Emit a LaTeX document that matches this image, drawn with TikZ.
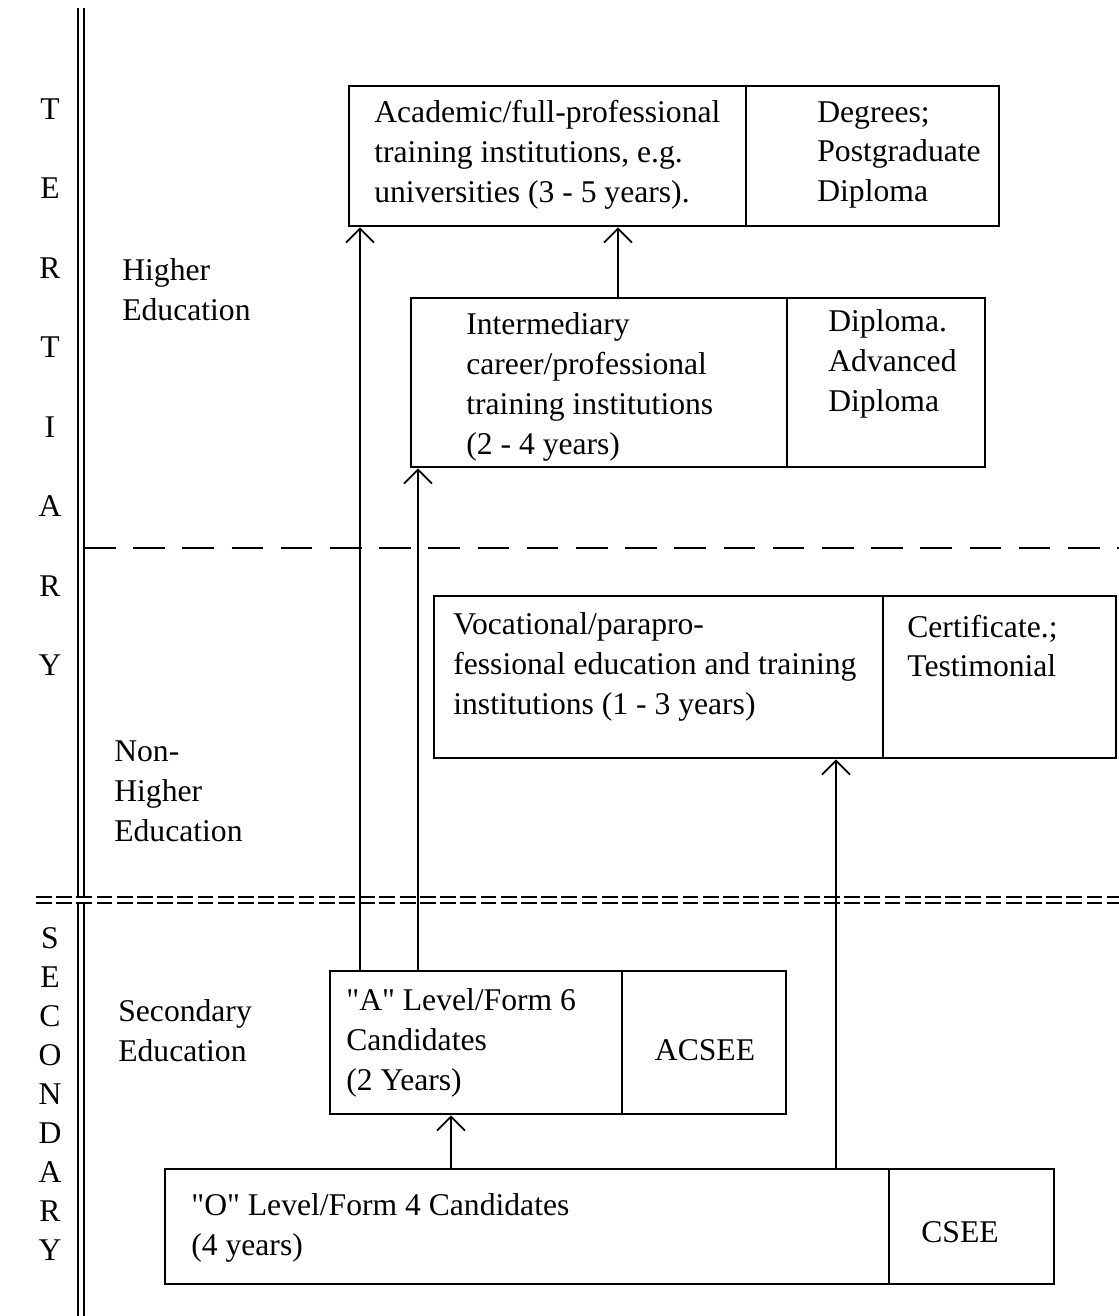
\documentclass[tikz,border=0pt]{standalone}
\usepackage{fontspec}
\setmainfont{Liberation Serif}
\usetikzlibrary{arrows.meta}

\begin{document}
\begin{tikzpicture}
    [x=0.02cm, y=-0.02cm,
    cell/.style 2 args={draw, line width=1.3pt, anchor=north west, inner sep=0pt,
        minimum width=#1*0.02cm, minimum height=#2*0.02cm},
    txt/.style={anchor=west, align=left, inner sep=0pt, font=\fontsize{18}{22.7}\selectfont},
    award/.style={anchor=center, align=center, inner sep=0pt, font=\fontsize{18}{22.7}\selectfont},
    letter/.style={anchor=center, inner sep=0pt, font=\fontsize{18}{22.7}\selectfont},
    arr/.style={-{Straight Barb[length=8pt,width=16pt,line width=1pt]}, line width=1pt}]

    \useasboundingbox (0,0) rectangle (1119,1316);

    % level rules
    \coordinate (ruleTop) at (81,8);
    \coordinate (ruleBot) at (81,1316);
    \draw[double, double distance=2.8pt, line width=0.8pt] (ruleTop) -- (ruleBot);

    \coordinate (hiL) at (84,548);
    \coordinate (hiR) at (1119,548);
    \draw[line width=1.2pt, dash pattern=on 18pt off 10pt] (hiL) -- (hiR);

    \coordinate (secL) at (36,900);
    \coordinate (secR) at (1119,900);
    \draw[double, double distance=2.6pt, line width=0.7pt, dash pattern=on 9pt off 2.5pt] (secL) -- (secR);

    % side letters
    \foreach \ch [count=\i from 0] in {T,E,R,T,I,A,R,Y}
        \node[letter] (ter\i) at (50,{109+79.5*\i}) {\ch};
    \foreach \ch [count=\i from 0] in {S,E,C,O,N,D,A,R,Y}
        \node[letter] (sec\i) at (50,{938+39*\i}) {\ch};

    \node[txt] (higherLbl) at (122,290) {Higher\\Education};
    \node[txt] (nonHigherLbl) at (114,791) {Non-\\Higher\\Education};
    \node[txt] (secondaryLbl) at (118,1031) {Secondary\\Education};

    % boxes
    \node[cell={397}{140}] (acadL) at (348,85) {};
    \node[cell={253}{140}] (acadR) at (745,85) {};
    \node[cell={376}{169}] (interL) at (410,297) {};
    \node[cell={198}{169}] (interR) at (786,297) {};
    \node[cell={449}{162}] (vocL) at (433,595) {};
    \node[cell={233}{162}] (vocR) at (882,595) {};
    \node[cell={292}{143}] (aLevL) at (329,970) {};
    \node[cell={164}{143}] (aLevR) at (621,970) {};
    \node[cell={724}{115}] (oLevL) at (164,1168) {};
    \node[cell={165}{115}] (oLevR) at (888,1168) {};

    \node[txt] (acadText) at (374,155) {Academic/full-professional\\training institutions, e.g.\\universities (3 - 5 years).};
    \node[txt] (acadAward) at (817,155) {Degrees;\\Postgraduate\\Diploma};
    \node[txt] (interText) at (466,387) {Intermediary\\career/professional\\training institutions\\(2 - 4 years)};
    \node[txt] (interAward) at (828,364) {Diploma.\\Advanced\\Diploma};
    \node[txt] (vocText) at (453,667) {Vocational/parapro-\\fessional education and training\\institutions (1 - 3 years)};
    \node[txt] (vocAward) at (907,646) {Certificate.;\\Testimonial};
    \node[txt] (aLevText) at (346,1043) {\textquotedbl A\textquotedbl{} Level/Form 6\\Candidates\\(2 Years)};
    \node[award] (aLevAward) at (705,1050) {ACSEE};
    \node[txt] (oLevText) at (191,1228) {\textquotedbl O\textquotedbl{} Level/Form 4 Candidates\\(4 years)};
    \node[award] (oLevAward) at (960,1232) {CSEE};

    % progression
    \draw[arr] (aLevL.north west) ++(31,0) coordinate (upAcad) -- (upAcad |- acadL.south);
    \draw[arr] (aLevL.north west) ++(89,0) coordinate (upInter) -- (upInter |- interL.south);
    \draw[arr] (interL.north west) ++(208,0) coordinate (interUp) -- (interUp |- acadL.south);
    \draw[arr] (oLevL.north west) ++(287,0) coordinate (upALev) -- (upALev |- aLevL.south);
    \draw[arr] (oLevL.north west) ++(672,0) coordinate (upVoc) -- (upVoc |- vocL.south);
\end{tikzpicture}
\end{document}
